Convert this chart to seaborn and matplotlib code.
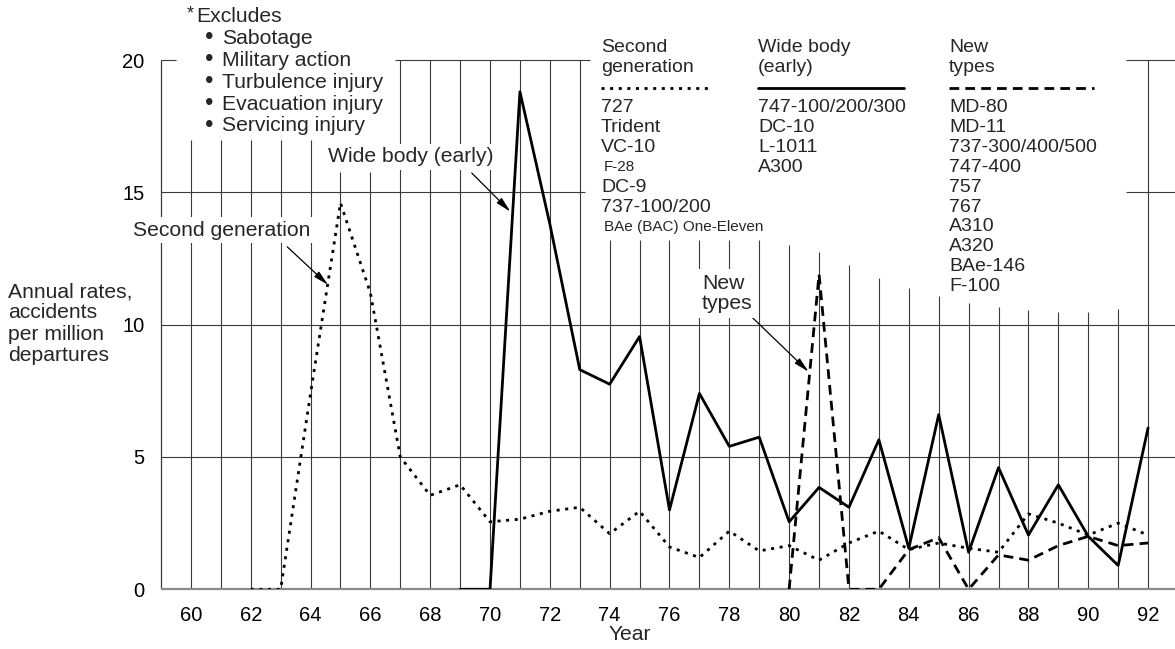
import matplotlib
matplotlib.use("Agg")
import matplotlib.pyplot as plt
from matplotlib.lines import Line2D
import seaborn as sns
import pandas as pd

# ---------------- data ----------------
years_second = list(range(62, 93))
second_generation = [0, 0, 7.4, 14.6, 11.2, 5.0, 3.55, 3.95, 2.55, 2.65, 2.95, 3.1,
                     2.1, 2.95, 1.6, 1.2, 2.2, 1.45, 1.65, 1.1, 1.75, 2.2, 1.5, 1.75,
                     1.55, 1.4, 2.85, 2.5, 2.05, 2.5, 2.05]
years_wide = list(range(69, 93))
wide_body_early = [0, 0, 18.8, 13.8, 8.3, 7.75, 9.55, 3.0, 7.4, 5.4, 5.75, 2.55,
                   3.85, 3.1, 5.65, 1.55, 6.6, 1.4, 4.6, 2.05, 3.95, 2.0, 0.9, 6.1]
years_new = list(range(80, 93))
new_types = [0, 11.9, 0, 0, 1.5, 1.95, 0, 1.3, 1.1, 1.65, 2.0, 1.65, 1.75]

series_names = ["Second generation", "Wide body (early)", "New types"]

x_ticks = list(range(60, 93, 2))
x_tick_labels = [str(t) for t in x_ticks]
y_ticks = [0, 5, 10, 15, 20]
y_tick_labels = [str(t) for t in y_ticks]

second_members = ["727", "Trident", "VC-10", "F-28", "DC-9", "737-100/200",
                  "BAe (BAC) One-Eleven"]
wide_members = ["747-100/200/300", "DC-10", "L-1011", "A300"]
new_members = ["MD-80", "MD-11", "737-300/400/500", "747-400", "757", "767",
               "A310", "A320", "BAe-146", "F-100"]
excluded = ["Sabotage", "Military action", "Turbulence injury",
            "Evacuation injury", "Servicing injury"]

# ---------------- styling / layout ----------------
W, H = 1175, 649
sns.set_style("white")
plt.rcParams["font.family"] = ["Liberation Sans", "DejaVu Sans"]
FS = 15.2     # labels, excludes block, axis label
LFS = 14      # legend block
TFS = 14.5    # tick labels

# vertical grid line tops (per year 60..92), cut where text blocks sit
grid_years = list(range(60, 93))
grid_tops = [16.98] * 5 + [15.76] * 2 + [20] * 7 + [13.2] * 6 + \
            [13.0, 12.75, 12.26, 11.77, 11.39, 11.08, 10.82, 10.67, 10.56,
             10.48, 10.48, 10.59, 20]
XMIN, XMAX = 59, 92.9
h_segments = [(0, XMIN, XMAX), (5, XMIN, XMAX), (10, XMIN, XMAX),
              (15, XMIN, 73.18), (15, 91.27, XMAX),
              (20, XMIN, 59.51), (20, 66.83, 73.35), (20, 91.27, XMAX)]
GRID_C = "#3a3a3a"

fig = plt.figure(figsize=(W / 100, H / 100), dpi=100, facecolor="white")
ax = fig.add_axes([161 / W, (H - 589.3) / H, (W - 161) / W, (589.3 - 60) / H])
ax.set_xlim(XMIN, XMAX)
ax.set_ylim(0, 20)
for s in ax.spines.values():
    s.set_visible(False)
ax.grid(False)

# grid
ax.vlines(grid_years, 0, grid_tops, colors=GRID_C, lw=0.8, zorder=1)
ax.vlines([XMIN], 0, 20, colors=GRID_C, lw=0.9, zorder=1, clip_on=False)
for yv, x0, x1 in h_segments:
    if yv == 0:
        ax.hlines(yv, x0, x1, colors="#8a8a8a", lw=1.6, zorder=1, clip_on=False)
    else:
        ax.hlines(yv, x0, x1, colors=GRID_C, lw=0.8, zorder=1, clip_on=False)

# data lines
df = pd.concat([
    pd.DataFrame({"year": years_second, "rate": second_generation, "series": series_names[0]}),
    pd.DataFrame({"year": years_wide, "rate": wide_body_early, "series": series_names[1]}),
    pd.DataFrame({"year": years_new, "rate": new_types, "series": series_names[2]}),
], ignore_index=True)

dash_map = {series_names[0]: (1.1, 2.0), series_names[1]: "", series_names[2]: (3.5, 2.2)}
sns.lineplot(data=df, x="year", y="rate", hue="series", style="series",
             hue_order=series_names, style_order=series_names,
             palette={n: "black" for n in series_names}, dashes=dash_map,
             linewidth=2.0, legend=False, estimator=None, ax=ax, zorder=2)
ax.set_xlabel("")
ax.set_ylabel("")

ax.set_xticks(x_ticks, x_tick_labels)
ax.set_yticks(y_ticks, y_tick_labels)
ax.tick_params(axis="both", length=0, labelsize=TFS, pad=12, colors="black")


def fx(x):
    return x / W


def fy(y):
    return 1 - y / H


# annotations with arrows
box = dict(facecolor="white", edgecolor="none", pad=2.5)
arrow = dict(arrowstyle="-|>,head_length=1.3,head_width=0.3", color="black",
             lw=0.9, shrinkA=0, shrinkB=0, mutation_scale=7)
fig.text(fx(133), fy(230), "Second generation", fontsize=FS, ha="left", va="center",
         bbox=box, zorder=5)
ax.annotate("", xy=(64.59, 11.5), xytext=(63.22, 12.94), arrowprops=arrow, zorder=6)
fig.text(fx(328), fy(157), "Wide body (early)", fontsize=FS, ha="left", va="center",
         bbox=box, zorder=5)
ax.annotate("", xy=(70.68, 14.27), xytext=(69.39, 15.73), arrowprops=arrow, zorder=6)
fig.text(fx(702), fy(293.5), "New\ntypes", fontsize=FS, ha="left", va="center",
         linespacing=1.05, bbox=dict(facecolor="white", edgecolor="none", pad=4), zorder=5)
ax.annotate("", xy=(80.65, 8.22), xytext=(78.76, 10.28), arrowprops=arrow, zorder=6)

# excludes block
fig.text(fx(187), fy(13.5), "*", fontsize=13, ha="left", va="center")
fig.text(fx(196.5), fy(16), "Excludes", fontsize=FS, ha="left", va="center")
for i, item in enumerate(excluded):
    yy = 38.3 + i * 21.9
    fig.text(fx(205), fy(yy), "\u2022", fontsize=FS + 2, ha="left", va="center")
    fig.text(fx(222), fy(yy), item, fontsize=FS, ha="left", va="center")

# y label
for i, line in enumerate(["Annual rates,", "accidents", "per million", "departures"]):
    fig.text(fx(8), fy(291.7 + i * 21.2), line, fontsize=FS, ha="left", va="center")

# x label
fig.text(fx(630), fy(634), "Year", fontsize=FS, ha="center", va="center")

# legend columns
col_x = [601, 758, 949]
headers = [("Second", "generation"), ("Wide body", "(early)"), ("New", "types")]
members = [second_members, wide_members, new_members]
small = {"F-28", "BAe (BAC) One-Eleven"}
sample_ends = [712, 904, 1094]
for k in range(3):
    fig.text(fx(col_x[k]), fy(47), headers[k][0], fontsize=LFS, ha="left", va="center")
    fig.text(fx(col_x[k]), fy(67), headers[k][1], fontsize=LFS, ha="left", va="center")
    d = dash_map[series_names[k]]
    ln = Line2D([fx(col_x[k]), fx(sample_ends[k])], [fy(88.3), fy(88.3)],
                transform=fig.transFigure, color="black", lw=2.0,
                linestyle=(0, d) if d else "-")
    fig.add_artist(ln)
    for i, m in enumerate(members[k]):
        yy = 108 + i * 19.8
        if m in small:
            fig.text(fx(col_x[k] + 3), fy(yy), m, fontsize=11, ha="left", va="center")
        else:
            fig.text(fx(col_x[k]), fy(yy), m, fontsize=LFS, ha="left", va="center")

fig.savefig("out.png", dpi=100, facecolor="white")
